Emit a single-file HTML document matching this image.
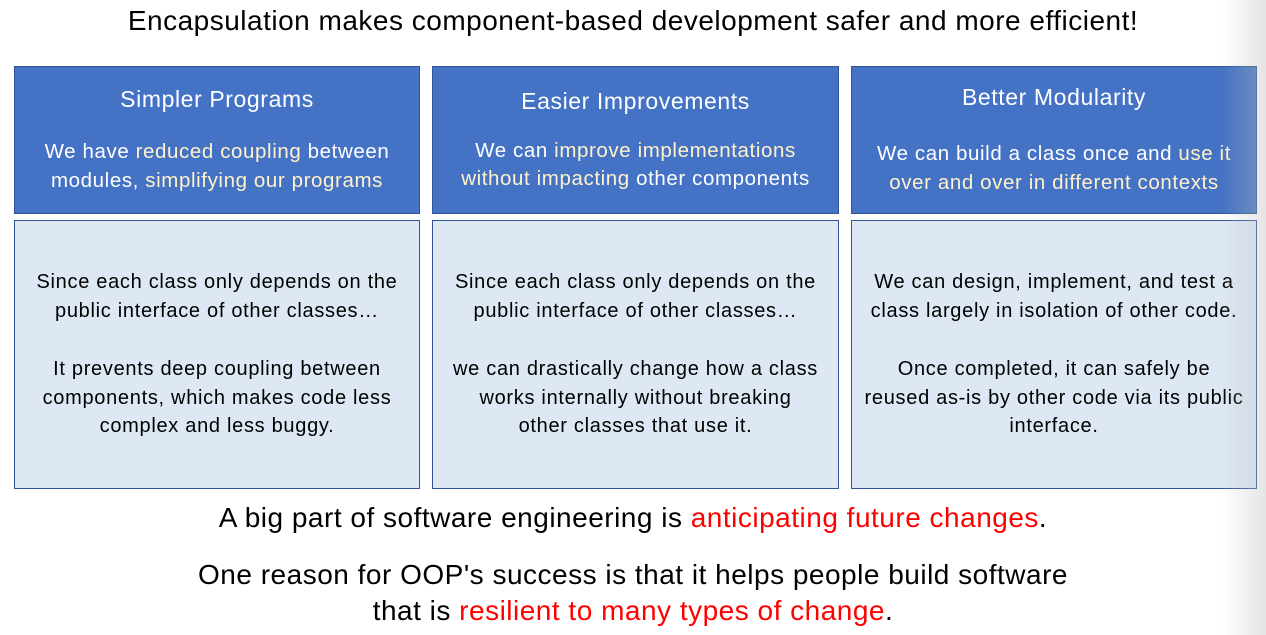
<!DOCTYPE html>
<html><head><style>
body{margin:0;width:1266px;height:635px;background:#fff;position:relative;overflow:hidden;font-family:"Liberation Sans",sans-serif;}
.t{position:absolute;left:0;width:1266px;text-align:center;white-space:nowrap;letter-spacing:0.5px;}
.b{position:absolute;box-sizing:border-box;border:1px solid #2f5597;}
.top{background:#4472c4;color:#fff;}
.bot{background:#dde8f4;color:#000;}
.l{position:absolute;left:-20px;right:-20px;text-align:center;white-space:nowrap;}
.top .l{letter-spacing:0.6px}
.bot .l{letter-spacing:0.7px}
.y{color:#fff2cc}
.r{color:#ff0000}
.shade{position:absolute;right:0;top:0;width:46px;height:635px;background:linear-gradient(to right,rgba(190,190,190,0),rgba(190,190,190,0.4));}
</style></head><body>
<div class="t" style="top:5px;font-size:28px;">Encapsulation makes component-based development safer and more efficient!</div>

<div class="b top" style="left:14px;top:66px;width:406px;height:148px;">
<div class="l" style="top:19px;font-size:23px;">Simpler Programs</div>
<div class="l" style="top:73px;font-size:20.5px;">We have <span class="y">reduced coupling</span> between</div>
<div class="l" style="top:102px;font-size:20.5px;">modules, <span class="y">simplifying our programs</span></div>
</div>
<div class="b top" style="left:432px;top:66px;width:407px;height:148px;">
<div class="l" style="top:21px;font-size:23px;">Easier Improvements</div>
<div class="l" style="top:72px;font-size:20.5px;">We can <span class="y">improve implementations</span></div>
<div class="l" style="top:100px;font-size:20.5px;"><span class="y">without impacting</span> other components</div>
</div>
<div class="b top" style="left:851px;top:66px;width:406px;height:148px;">
<div class="l" style="top:17px;font-size:23px;">Better Modularity</div>
<div class="l" style="top:75px;font-size:20.5px;">We can build a class once and <span class="y">use it</span></div>
<div class="l" style="top:104px;font-size:20.5px;"><span class="y">over and over in different contexts</span></div>
</div>

<div class="b bot" style="left:14px;top:220px;width:406px;height:269px;font-size:20px;">
<div class="l" style="top:50px;">Since each class only depends on the</div>
<div class="l" style="top:79px;">public interface of other classes…</div>
<div class="l" style="top:137px;">It prevents deep coupling between</div>
<div class="l" style="top:166px;">components, which makes code less</div>
<div class="l" style="top:194px;">complex and less buggy.</div>
</div>
<div class="b bot" style="left:432px;top:220px;width:407px;height:269px;font-size:20px;">
<div class="l" style="top:50px;">Since each class only depends on the</div>
<div class="l" style="top:79px;">public interface of other classes…</div>
<div class="l" style="top:137px;">we can drastically change how a class</div>
<div class="l" style="top:166px;">works internally without breaking</div>
<div class="l" style="top:194px;">other classes that use it.</div>
</div>
<div class="b bot" style="left:851px;top:220px;width:406px;height:269px;font-size:20px;">
<div class="l" style="top:50px;">We can design, implement, and test a</div>
<div class="l" style="top:79px;">class largely in isolation of other code.</div>
<div class="l" style="top:137px;">Once completed, it can safely be</div>
<div class="l" style="top:166px;">reused as-is by other code via its public</div>
<div class="l" style="top:194px;">interface.</div>
</div>

<div class="t" style="top:502px;font-size:28px;">A big part of software engineering is <span class="r">anticipating future changes</span>.</div>
<div class="t" style="top:559px;font-size:28px;">One reason for OOP's success is that it helps people build software</div>
<div class="t" style="top:595px;font-size:28px;">that is <span class="r">resilient to many types of change</span>.</div>
<div class="shade"></div>
</body></html>
